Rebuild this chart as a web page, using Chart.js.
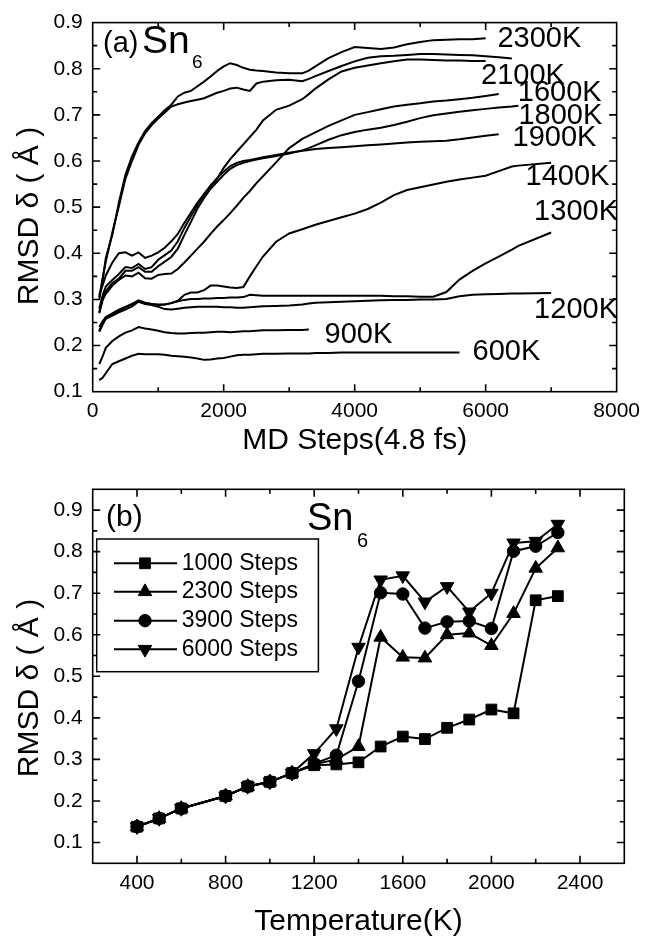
<!DOCTYPE html>
<html><head><meta charset="utf-8">
<script src="https://cdn.jsdelivr.net/npm/chart.js@4.4.1/dist/chart.umd.min.js"></script>
<style>
html,body{margin:0;padding:0;background:#fff;}
#wrap{position:relative;width:647px;height:939px;overflow:hidden;}
#c1{position:absolute;left:0;top:0;}
#c2{position:absolute;left:0;top:460px;}
</style></head><body>
<div id="wrap"><canvas id="c1" width="647" height="460"></canvas><canvas id="c2" width="647" height="479"></canvas></div>
<script>
// ---------- panel (a) data: RMSD vs MD steps ----------
const mdSteps = [100,150,200,300,400,500,600,700,800,900,1000,1100,1200,1300,1400,1500,1600,1700,1800,1900,2000,2100,2200,2300,2400,2500,2600,2800,3000,3200,3300,3400,3600,3800,4000,4200,4400,4600,4800,5000,5200,5400,5600,5800,6000,6200,6400,6500,7000];
const rmsd600K  = [0.125,0.130,0.140,0.160,0.166,0.172,0.178,0.182,0.181,0.181,0.181,0.180,0.178,0.177,0.176,0.174,0.172,0.169,0.170,0.172,0.173,0.176,0.179,0.180,0.180,0.181,0.182,0.182,0.183,0.183,0.183,0.184,0.184,0.185,0.185,0.185,0.185,0.185,0.185,0.185,0.185,0.185,0.185];
const rmsd900K  = [0.160,0.176,0.195,0.210,0.220,0.228,0.233,0.240,0.237,0.235,0.232,0.229,0.227,0.226,0.226,0.227,0.228,0.228,0.229,0.230,0.230,0.229,0.230,0.231,0.231,0.232,0.233,0.233,0.234,0.234,0.235];
const rmsd1200K = [0.230,0.245,0.258,0.265,0.272,0.278,0.285,0.295,0.290,0.288,0.284,0.279,0.278,0.280,0.282,0.283,0.284,0.284,0.284,0.284,0.283,0.283,0.282,0.282,0.283,0.284,0.285,0.286,0.287,0.289,0.291,0.293,0.294,0.295,0.296,0.297,0.298,0.299,0.299,0.300,0.300,0.301,0.307,0.310,0.311,0.312,0.313,0.313,0.314];
const rmsd1300K = [0.240,0.252,0.262,0.270,0.278,0.284,0.290,0.297,0.292,0.290,0.289,0.289,0.292,0.296,0.299,0.301,0.301,0.302,0.302,0.303,0.303,0.304,0.304,0.305,0.310,0.309,0.308,0.308,0.308,0.308,0.308,0.308,0.308,0.308,0.308,0.308,0.308,0.307,0.307,0.306,0.306,0.316,0.343,0.362,0.378,0.393,0.408,0.416,0.445];
const rmsd1400K = [0.232,0.248,0.260,0.268,0.275,0.283,0.290,0.298,0.293,0.290,0.288,0.289,0.292,0.297,0.310,0.315,0.315,0.320,0.330,0.330,0.328,0.326,0.325,0.327,0.350,0.372,0.393,0.425,0.443,0.452,0.457,0.462,0.470,0.478,0.486,0.496,0.510,0.526,0.537,0.543,0.549,0.555,0.560,0.564,0.568,0.578,0.588,0.590,0.596];
const rmsd1600K = [0.270,0.298,0.312,0.330,0.342,0.352,0.350,0.358,0.346,0.345,0.353,0.355,0.356,0.366,0.380,0.395,0.410,0.425,0.442,0.458,0.472,0.487,0.503,0.520,0.535,0.552,0.567,0.597,0.628,0.648,0.655,0.662,0.676,0.688,0.700,0.706,0.712,0.718,0.722,0.725,0.729,0.731,0.734,0.737,0.741,0.745];
const rmsd1800K = [0.272,0.300,0.318,0.335,0.345,0.362,0.362,0.370,0.360,0.360,0.372,0.382,0.392,0.410,0.440,0.468,0.497,0.520,0.540,0.555,0.570,0.583,0.591,0.596,0.600,0.603,0.606,0.611,0.616,0.623,0.628,0.634,0.646,0.656,0.663,0.668,0.672,0.678,0.685,0.693,0.699,0.703,0.707,0.710,0.713,0.716,0.718,0.720];
const rmsd1900K = [0.280,0.308,0.328,0.342,0.355,0.370,0.368,0.377,0.366,0.370,0.386,0.396,0.406,0.426,0.455,0.480,0.505,0.528,0.547,0.563,0.577,0.589,0.596,0.600,0.602,0.605,0.608,0.613,0.618,0.622,0.624,0.626,0.628,0.630,0.632,0.634,0.636,0.638,0.640,0.642,0.643,0.644,0.647,0.651,0.655,0.658];
const rmsd2100K = [0.310,0.330,0.352,0.380,0.400,0.402,0.395,0.402,0.390,0.395,0.402,0.412,0.426,0.442,0.466,0.488,0.510,0.528,0.545,0.562,0.585,0.604,0.620,0.636,0.652,0.668,0.688,0.711,0.720,0.734,0.745,0.757,0.777,0.794,0.802,0.807,0.812,0.816,0.820,0.820,0.819,0.818,0.818,0.817,0.817];
const rmsd2200K = [0.305,0.345,0.382,0.445,0.502,0.562,0.600,0.635,0.660,0.678,0.692,0.705,0.718,0.723,0.727,0.730,0.733,0.736,0.742,0.748,0.752,0.757,0.759,0.755,0.752,0.768,0.772,0.775,0.776,0.773,0.778,0.784,0.795,0.806,0.816,0.824,0.827,0.828,0.830,0.832,0.832,0.831,0.830,0.829,0.827,0.825,0.822];
const rmsd2300K = [0.300,0.340,0.390,0.440,0.510,0.570,0.610,0.640,0.665,0.682,0.696,0.710,0.722,0.740,0.748,0.752,0.762,0.772,0.783,0.795,0.805,0.812,0.808,0.802,0.798,0.796,0.795,0.792,0.790,0.790,0.796,0.805,0.823,0.836,0.847,0.845,0.843,0.846,0.853,0.858,0.862,0.863,0.864,0.864,0.866];
const curveNames = ['600K','900K','1200K','1300K','1400K','1600K','1800K','1900K','2100K','2200K','2300K'];
const curveValues = [rmsd600K,rmsd900K,rmsd1200K,rmsd1300K,rmsd1400K,rmsd1600K,rmsd1800K,rmsd1900K,rmsd2100K,rmsd2200K,rmsd2300K];
const topXTicks = [0,2000,4000,6000,8000];
const topYTicks = [0.1,0.2,0.3,0.4,0.5,0.6,0.7,0.8,0.9];
const curveLabelText = ['2300K','2100K','1600K','1800K','1900K','1400K','1300K','1200K','900K','600K'];

// ---------- panel (b) data: RMSD vs temperature ----------
const temperatures = [400,500,600,800,900,1000,1100,1200,1300,1400,1500,1600,1700,1800,1900,2000,2100,2200,2300];
const steps1000 = [0.138,0.158,0.182,0.212,0.235,0.246,0.267,0.286,0.288,0.293,0.331,0.355,0.349,0.376,0.396,0.420,0.411,0.683,0.693];
const steps2300 = [0.138,0.158,0.182,0.212,0.235,0.246,0.267,0.288,0.300,0.331,0.594,0.546,0.544,0.600,0.604,0.574,0.651,0.760,0.809];
const steps3900 = [0.138,0.158,0.182,0.212,0.235,0.246,0.267,0.290,0.310,0.488,0.701,0.698,0.616,0.631,0.633,0.615,0.801,0.813,0.846];
const steps6000 = [0.138,0.158,0.182,0.212,0.235,0.246,0.267,0.314,0.374,0.570,0.732,0.742,0.679,0.716,0.655,0.700,0.821,0.825,0.866];
const seriesNames = ['1000 Steps','2300 Steps','3900 Steps','6000 Steps'];
const botXTicks = [400,800,1200,1600,2000,2400];
const botYTicks = [0.1,0.2,0.3,0.4,0.5,0.6,0.7,0.8,0.9];

// ---------- drawing helpers ----------
const FONT = '"Liberation Sans", Arial, Helvetica, sans-serif';
function f(px){ return px + 'px ' + FONT; }
function minorsOf(t){ const m=[]; for(let i=0;i<t.length-1;i++) m.push((t[i]+t[i+1])/2); return m; }

function frameTicksPlugin(id, xMajor, yMajor, xMinorExtra, yMinorExtra, extra){
  return { id: id, afterDraw(chart){
    const ctx = chart.ctx, a = chart.chartArea, xs = chart.scales.x, ys = chart.scales.y;
    ctx.save();
    ctx.strokeStyle = '#000'; ctx.lineWidth = 1.6;
    ctx.strokeRect(a.left, a.top, a.right - a.left, a.bottom - a.top);
    ctx.beginPath();
    const MJ = 7.5, MN = 4.5;
    const xMinor = minorsOf(xMajor).concat(xMinorExtra);
    const yMinor = minorsOf(yMajor).concat(yMinorExtra);
    const xt = (v, L) => { const p = xs.getPixelForValue(v); if (p < a.left+1 || p > a.right-1) return;
      ctx.moveTo(p, a.bottom); ctx.lineTo(p, a.bottom - L); ctx.moveTo(p, a.top); ctx.lineTo(p, a.top + L); };
    const yt = (v, L) => { const p = ys.getPixelForValue(v); if (p < a.top+1 || p > a.bottom-1) return;
      ctx.moveTo(a.left, p); ctx.lineTo(a.left + L, p); ctx.moveTo(a.right, p); ctx.lineTo(a.right - L, p); };
    xMajor.forEach(v => xt(v, MJ)); xMinor.forEach(v => xt(v, MN));
    yMajor.forEach(v => yt(v, MJ)); yMinor.forEach(v => yt(v, MN));
    ctx.stroke();
    extra(chart, ctx, a, xs, ys);
    ctx.restore();
  }};
}

function baseScales(xMin, xMax, xTicks, yMin, yMax, yTicks, xH){
  return {
    x: { type:'linear', min:xMin, max:xMax,
      grid:{display:false, drawTicks:false}, border:{display:false},
      ticks:{color:'#000', font:{family:FONT, size:21}, padding:7, maxRotation:0, autoSkip:false, callback:v=>String(v)},
      afterBuildTicks(s){ s.ticks = xTicks.map(v=>({value:v})); },
      afterFit(s){ s.height = xH; } },
    y: { type:'linear', min:yMin, max:yMax,
      grid:{display:false, drawTicks:false}, border:{display:false},
      ticks:{color:'#000', font:{family:FONT, size:21}, padding:10, autoSkip:false, callback:v=>Number(v).toFixed(1)},
      afterBuildTicks(s){ s.ticks = yTicks.map(v=>({value:v})); },
      afterFit(s){ s.width = 92.7; } }
  };
}

function yTitle(ctx, cx, cy){
  ctx.save(); ctx.translate(cx, cy); ctx.rotate(-Math.PI/2);
  ctx.font = f(30); ctx.fillStyle = '#000'; ctx.textAlign = 'center'; ctx.textBaseline = 'alphabetic';
  ctx.fillText('RMSD \u03B4 ( \u00C5 )', 0, 10.7);
  ctx.restore();
}

// ---------- panel (a) ----------
const topDatasets = curveValues.map((vals, k) => ({
  label: curveNames[k],
  data: vals.map((y, i) => ({x: mdSteps[i], y: y})),
  borderColor:'#000', borderWidth:2, pointRadius:0, tension:0, fill:false
}));
const topLabelAnchors = [[6180,0.865],[5930,0.784],[6490,0.748],[6500,0.698],[6410,0.649],[6610,0.565],[6740,0.490],[6740,0.277],[3540,0.223],[5800,0.185]];

new Chart(document.getElementById('c1'), {
  type:'line',
  data:{ datasets: topDatasets },
  options:{
    animation:false, responsive:false, devicePixelRatio:1,
    layout:{padding:{left:0, right:23, top:17.3, bottom:0}},
    plugins:{legend:{display:false}, tooltip:{enabled:false}},
    scales: baseScales(0, 8000, topXTicks, 0.1, 0.9, topYTicks, 68.3)
  },
  plugins:[frameTicksPlugin('decorA', topXTicks, topYTicks, [], [], (chart, ctx, a, xs, ys) => {
    ctx.fillStyle = '#000';
    ctx.textBaseline = 'middle'; ctx.textAlign = 'left';
    ctx.font = f(29);
    curveLabelText.forEach((t, k) => {
      ctx.fillText(t, xs.getPixelForValue(topLabelAnchors[k][0]), ys.getPixelForValue(topLabelAnchors[k][1]));
    });
    // panel tag
    ctx.textBaseline = 'alphabetic';
    ctx.font = f(29); ctx.fillText('(a)', 103, 51.5);
    ctx.font = f(39); ctx.fillText('Sn', 142, 53);
    ctx.font = f(19); ctx.fillText('6', 192, 68);
    // axis titles
    ctx.font = f(30); ctx.textAlign = 'center';
    ctx.fillText('MD Steps(4.8 fs)', (a.left + a.right)/2, 449);
    yTitle(ctx, 27, 216);
  })]
});

// ---------- panel (b) ----------
const markerStyles = [
  {pointStyle:'rect', pointRadius:7.6, pointRotation:0},
  {pointStyle:'triangle', pointRadius:7.8, pointRotation:0},
  {pointStyle:'circle', pointRadius:6.2, pointRotation:0},
  {pointStyle:'triangle', pointRadius:7.8, pointRotation:180}
];
const botValues = [steps1000, steps2300, steps3900, steps6000];
const botDatasets = botValues.map((vals, k) => Object.assign({
  label: seriesNames[k],
  data: vals.map((y, i) => ({x: temperatures[i], y: y})),
  borderColor:'#000', borderWidth:2, tension:0, fill:false,
  pointBackgroundColor:'#000', pointBorderColor:'#000', pointBorderWidth:1
}, markerStyles[k]));

new Chart(document.getElementById('c2'), {
  type:'line',
  data:{ datasets: botDatasets },
  options:{
    animation:false, responsive:false, devicePixelRatio:1,
    layout:{padding:{left:0, right:22.7, top:29.3, bottom:0}},
    plugins:{legend:{display:false}, tooltip:{enabled:false}},
    scales: baseScales(200, 2600, botXTicks, 0.05, 0.95, botYTicks, 75.7)
  },
  plugins:[frameTicksPlugin('decorB', botXTicks, botYTicks, [], [], (chart, ctx, a, xs, ys) => {
    ctx.fillStyle = '#000'; ctx.strokeStyle = '#000';
    // legend box
    const L = 96.7, T = 79, R = 318.4, B = 211.7;
    ctx.lineWidth = 1.5;
    ctx.strokeRect(L, T, R - L, B - T);
    const rows = [103.3, 131.7, 160.7, 189.3];
    ctx.font = f(23); ctx.textAlign = 'left'; ctx.textBaseline = 'middle';
    seriesNames.forEach((name, k) => {
      const y = rows[k];
      ctx.lineWidth = 2; ctx.beginPath(); ctx.moveTo(114, y); ctx.lineTo(177, y); ctx.stroke();
      ctx.lineWidth = 1;
      Chart.helpers.drawPoint(ctx, {pointStyle: markerStyles[k].pointStyle, radius: markerStyles[k].pointRadius,
        rotation: markerStyles[k].pointRotation, borderWidth: 1}, 145, y);
      ctx.fillStyle = '#000';
      ctx.fillText(name, 181.7, y);
    });
    // panel tag
    ctx.textBaseline = 'alphabetic'; ctx.textAlign = 'left';
    ctx.font = f(30); ctx.fillText('(b)', 106, 66);
    ctx.font = f(38); ctx.fillText('Sn', 307, 70);
    ctx.font = f(20); ctx.fillText('6', 357, 87);
    // axis titles
    ctx.font = f(30); ctx.textAlign = 'center';
    ctx.fillText('Temperature(K)', (a.left + a.right)/2, 470);
    yTitle(ctx, 27, 228);
  })]
});
</script>
</body></html>
